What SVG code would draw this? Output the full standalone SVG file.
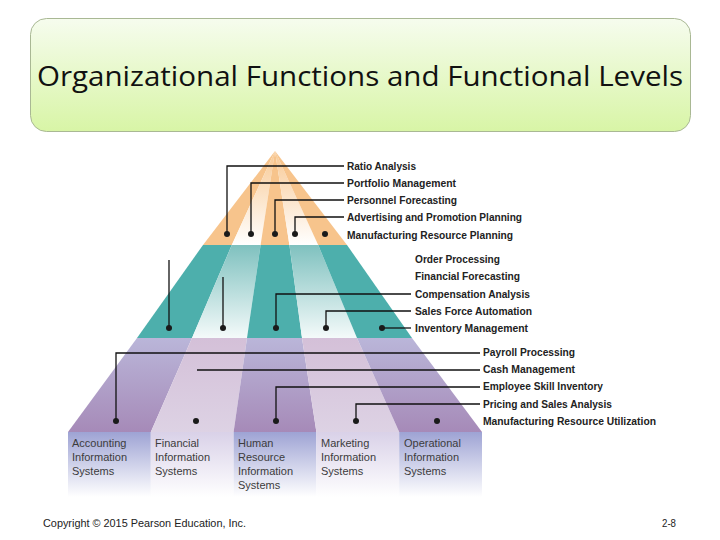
<svg xmlns="http://www.w3.org/2000/svg" width="720" height="540" viewBox="0 0 720 540">
<defs>
<linearGradient id="gTitle" x1="0" y1="0" x2="0" y2="1"><stop offset="0" stop-color="#f6fcee"/><stop offset="1" stop-color="#d8f5a6"/></linearGradient>
<linearGradient id="gTopLight" gradientUnits="userSpaceOnUse" x1="0" y1="151" x2="0" y2="245"><stop offset="0" stop-color="#f8c994"/><stop offset="1" stop-color="#ffffff"/></linearGradient>
<linearGradient id="gMidLight" gradientUnits="userSpaceOnUse" x1="0" y1="245" x2="0" y2="338"><stop offset="0" stop-color="#7fc1bf"/><stop offset="1" stop-color="#f4fafa"/></linearGradient>
<linearGradient id="gBotDark" gradientUnits="userSpaceOnUse" x1="0" y1="338" x2="0" y2="432"><stop offset="0" stop-color="#bab6d9"/><stop offset="1" stop-color="#a68ab8"/></linearGradient>
<linearGradient id="gBotLight" gradientUnits="userSpaceOnUse" x1="0" y1="338" x2="0" y2="432"><stop offset="0" stop-color="#d4c0d8"/><stop offset="1" stop-color="#ddd2e4"/></linearGradient>
<linearGradient id="gBandDark" gradientUnits="userSpaceOnUse" x1="0" y1="432" x2="0" y2="497"><stop offset="0" stop-color="#9ea3d4"/><stop offset="1" stop-color="#ffffff"/></linearGradient>
<linearGradient id="gBandLight" gradientUnits="userSpaceOnUse" x1="0" y1="432" x2="0" y2="497"><stop offset="0" stop-color="#d9d1e8"/><stop offset="1" stop-color="#ffffff"/></linearGradient>
</defs>
<style>
.lbl{font-family:"Liberation Sans",Arial,sans-serif;font-weight:bold;font-size:10.5px;fill:#222}
.sys{font-family:"Liberation Sans",Arial,sans-serif;font-size:11px;fill:#3c3c3c}
.ln{fill:none;stroke:#111;stroke-width:1.3}
.dot{fill:#1a1a1a}
.foot{font-family:"Liberation Sans Narrow","Liberation Sans",Arial,sans-serif;font-size:11px;fill:#222}
</style>
<rect width="720" height="540" fill="#ffffff"/>

<g id="title">
<rect x="30.5" y="18.5" width="660" height="113" rx="16" fill="url(#gTitle)" stroke="#a9b894" stroke-width="1"/>
<text x="37" y="86" textLength="646" lengthAdjust="spacingAndGlyphs" style="font-family:'Open Sans',Lato,sans-serif;font-size:28px;fill:#111">Organizational Functions and Functional Levels</text>
</g>

<g id="tier-top">
<polygon points="275,151 203,245 231.8,245" fill="#f7c48c"/>
<polygon points="275,151 231.8,245 260.6,245" fill="url(#gTopLight)"/>
<polygon points="275,151 260.6,245 289.4,245" fill="#f7c48c"/>
<polygon points="275,151 289.4,245 318.2,245" fill="url(#gTopLight)"/>
<polygon points="275,151 318.2,245 347,245" fill="#f7c48c"/>
</g>

<g id="tier-middle">
<polygon points="203,245 231.8,245 192,338 137,338" fill="#4dafac"/>
<polygon points="231.8,245 260.6,245 247,338 192,338" fill="url(#gMidLight)"/>
<polygon points="260.6,245 289.4,245 302,338 247,338" fill="#4dafac"/>
<polygon points="289.4,245 318.2,245 357,338 302,338" fill="url(#gMidLight)"/>
<polygon points="318.2,245 347,245 412,338 357,338" fill="#4dafac"/>
</g>

<g id="tier-bottom">
<polygon points="137,338 192,338 150.8,432 68,432" fill="url(#gBotDark)"/>
<polygon points="192,338 247,338 233.6,432 150.8,432" fill="url(#gBotLight)"/>
<polygon points="247,338 302,338 316.4,432 233.6,432" fill="url(#gBotDark)"/>
<polygon points="302,338 357,338 399.2,432 316.4,432" fill="url(#gBotLight)"/>
<polygon points="357,338 412,338 482,432 399.2,432" fill="url(#gBotDark)"/>
</g>

<g id="band">
<rect x="68" y="432" width="82.8" height="65" fill="url(#gBandDark)"/>
<rect x="150.8" y="432" width="82.8" height="65" fill="url(#gBandLight)"/>
<rect x="233.6" y="432" width="82.8" height="65" fill="url(#gBandDark)"/>
<rect x="316.4" y="432" width="82.8" height="65" fill="url(#gBandLight)"/>
<rect x="399.2" y="432" width="82.8" height="65" fill="url(#gBandDark)"/>
</g>

<g id="connectors">
<polyline class="ln" points="227,234 227,166 344,166"/>
<polyline class="ln" points="251,234 251,183 344,183"/>
<polyline class="ln" points="275,234 275,200 344,200"/>
<polyline class="ln" points="295,234 295,217 344,217"/>
<line class="ln" x1="169" y1="260" x2="169" y2="328"/>
<line class="ln" x1="223" y1="277" x2="223" y2="328"/>
<polyline class="ln" points="276,328 276,294 411,294"/>
<polyline class="ln" points="326,328 326,311 411,311"/>
<line class="ln" x1="382" y1="328" x2="411" y2="328"/>
<polyline class="ln" points="116,421 116,353 480,353"/>
<line class="ln" x1="197" y1="370" x2="480" y2="370"/>
<polyline class="ln" points="276,421 276,387 480,387"/>
<polyline class="ln" points="356,421 356,404 480,404"/>
</g>

<g id="dots">
<circle class="dot" cx="227" cy="234" r="3"/><circle class="dot" cx="251" cy="234" r="3"/><circle class="dot" cx="275" cy="234" r="3"/><circle class="dot" cx="295" cy="234" r="3"/><circle class="dot" cx="325" cy="234" r="3"/>
<circle class="dot" cx="169" cy="328" r="3"/><circle class="dot" cx="223" cy="328" r="3"/><circle class="dot" cx="276" cy="328" r="3"/><circle class="dot" cx="326" cy="328" r="3"/><circle class="dot" cx="382" cy="328" r="3"/>
<circle class="dot" cx="116" cy="421" r="3"/><circle class="dot" cx="196" cy="421" r="3"/><circle class="dot" cx="276" cy="421" r="3"/><circle class="dot" cx="356" cy="421" r="3"/><circle class="dot" cx="437" cy="421" r="3"/>
</g>

<g id="labels-top">
<text class="lbl" x="347" y="170" textLength="69" lengthAdjust="spacingAndGlyphs">Ratio Analysis</text>
<text class="lbl" x="347" y="187" textLength="109" lengthAdjust="spacingAndGlyphs">Portfolio Management</text>
<text class="lbl" x="347" y="204" textLength="110" lengthAdjust="spacingAndGlyphs">Personnel Forecasting</text>
<text class="lbl" x="347" y="221" textLength="175" lengthAdjust="spacingAndGlyphs">Advertising and Promotion Planning</text>
<text class="lbl" x="347" y="239" textLength="166" lengthAdjust="spacingAndGlyphs">Manufacturing Resource Planning</text>
</g>

<g id="labels-middle">
<text class="lbl" x="415" y="263" textLength="85" lengthAdjust="spacingAndGlyphs">Order Processing</text>
<text class="lbl" x="415" y="280" textLength="105" lengthAdjust="spacingAndGlyphs">Financial Forecasting</text>
<text class="lbl" x="415" y="298" textLength="115" lengthAdjust="spacingAndGlyphs">Compensation Analysis</text>
<text class="lbl" x="415" y="315" textLength="117" lengthAdjust="spacingAndGlyphs">Sales Force Automation</text>
<text class="lbl" x="415" y="332" textLength="113" lengthAdjust="spacingAndGlyphs">Inventory Management</text>
</g>

<g id="labels-bottom">
<text class="lbl" x="483" y="356" textLength="92" lengthAdjust="spacingAndGlyphs">Payroll Processing</text>
<text class="lbl" x="483" y="373" textLength="92" lengthAdjust="spacingAndGlyphs">Cash Management</text>
<text class="lbl" x="483" y="390" textLength="120" lengthAdjust="spacingAndGlyphs">Employee Skill Inventory</text>
<text class="lbl" x="483" y="408" textLength="129" lengthAdjust="spacingAndGlyphs">Pricing and Sales Analysis</text>
<text class="lbl" x="483" y="425" textLength="173" lengthAdjust="spacingAndGlyphs">Manufacturing Resource Utilization</text>
</g>

<g id="sys-accounting"><text class="sys" x="72" y="447">Accounting</text><text class="sys" x="72" y="461">Information</text><text class="sys" x="72" y="475">Systems</text></g>
<g id="sys-financial"><text class="sys" x="155" y="447">Financial</text><text class="sys" x="155" y="461">Information</text><text class="sys" x="155" y="475">Systems</text></g>
<g id="sys-hr"><text class="sys" x="238" y="447">Human</text><text class="sys" x="238" y="461">Resource</text><text class="sys" x="238" y="475">Information</text><text class="sys" x="238" y="489">Systems</text></g>
<g id="sys-marketing"><text class="sys" x="321" y="447">Marketing</text><text class="sys" x="321" y="461">Information</text><text class="sys" x="321" y="475">Systems</text></g>
<g id="sys-operational"><text class="sys" x="404" y="447">Operational</text><text class="sys" x="404" y="461">Information</text><text class="sys" x="404" y="475">Systems</text></g>

<g id="footer">
<text class="foot" x="43" y="527" textLength="203" lengthAdjust="spacingAndGlyphs">Copyright © 2015 Pearson Education, Inc.</text>
<text class="foot" x="662" y="527" textLength="14" lengthAdjust="spacingAndGlyphs">2-8</text>
</g>
</svg>
